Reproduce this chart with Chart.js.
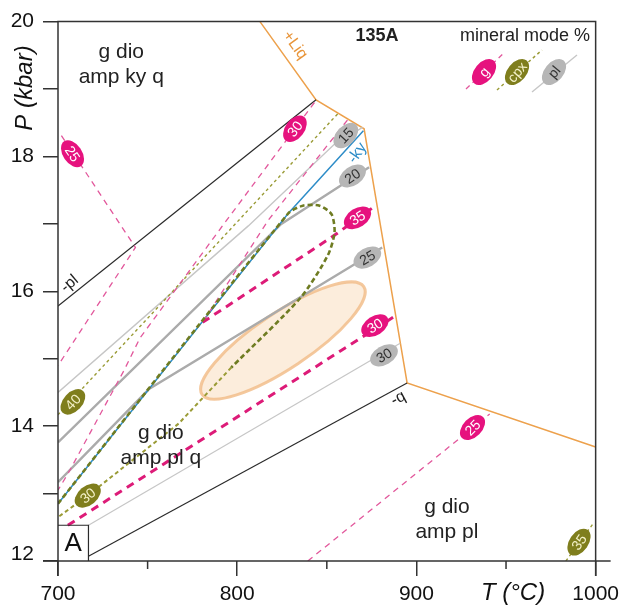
<!DOCTYPE html>
<html>
<head>
<meta charset="utf-8">
<script src="https://cdn.jsdelivr.net/npm/chart.js@4/dist/chart.umd.min.js"></script>
<style>html,body{margin:0;padding:0;background:#fff}canvas{display:block}</style>
</head>
<body>
<canvas id="c" width="625" height="612"></canvas>
<script>
// Axis ticks (T in °C, P in kbar)
const tempTickLabels = ['700', '', '800', '', '900', '', '1000'];
const pressTickLabels = ['12', '', '14', '', '16', '', '18', '', '20'];

// Field boundaries [T, P]
const liqBoundary = [[812.7, 20], [844.0, 18.84], [870.8, 18.41], [894.8, 14.64], [1000, 13.69]];
const plOut = [[700, 15.78], [844.0, 18.84]];
const qOut = [[717.0, 12.07], [894.8, 14.64]];
const kyOut = [[870.4, 18.38], [828.3, 17.15], [700, 12.85]];

// Plagioclase mode isopleths
const pl15 = [[870.0, 18.43], [854.2, 18.18], [806.2, 16.97], [700, 14.50]];
const pl20 = [[873.6, 17.84], [824.6, 17.00], [700, 13.76]];
const pl25 = [[880.9, 16.65], [750.8, 14.55], [700, 13.17]];
const pl30 = [[717.0, 12.53], [890.9, 15.23]];

// Garnet mode isopleths
const g25Upper = [[701.9, 18.31], [743.2, 16.65], [700, 14.90]];
const g30Upper = [[843.1, 18.80], [791.2, 16.95], [745.8, 15.31], [736.9, 14.83], [706.5, 13.34], [700, 13.05]];
const g35Ky = [[861.5, 18.54], [817.2, 17.05], [780.7, 15.54]];
const g35 = [[780.7, 15.54], [854.2, 16.83], [877.2, 17.27]];
const g30 = [[705.5, 12.53], [888.5, 15.64]];
const g25 = [[839.4, 12.0], [940.9, 14.18]];

// Clinopyroxene mode isopleths
const cpx40 = [[856.0, 18.63], [700, 14.17]];
const cpx30Loop = [[700, 12.85], [828.3, 17.15], [836.6, 17.27], [846.0, 17.27], [852.7, 17.14],
                   [854.3, 16.87], [850.5, 16.53], [835.5, 15.91], [796.7, 14.87]];
const cpx30Lower = [[796.7, 14.87], [767.4, 14.04], [716.6, 12.97], [700, 12.65]];
const cpx35 = [[983.4, 12.0], [998.2, 12.54]];

// Isopleth value tags [T, P, value]
const gTags = [[708.1, 18.04, '25'], [832.2, 18.41, '30'], [867.1, 17.09, '35'], [876.8, 15.49, '30'], [931.3, 13.98, '25']];
const cpxTags = [[708.3, 14.36, '40'], [716.6, 12.97, '30'], [990.7, 12.28, '35']];
const plTags = [[860.6, 18.31, '15'], [864.3, 17.71, '20'], [872.6, 16.50, '25'], [881.9, 15.05, '30']];

// Estimated peak P–T (ellipse: centre, end of long axis, end of short axis)
const peakCentre = [825.5, 15.27];
const peakLongEnd = [870.6, 16.07];
const peakShortEnd = [816.9, 15.61];

// Field assemblages [T, P of first line, lines]
const fieldLabels = [
  [735.3, 19.54, ['g dio', 'amp ky q']],
  [757.4, 13.89, ['g dio', 'amp pl q']],
  [917.0, 12.80, ['g dio', 'amp pl']]
];

const FONT = '"Liberation Sans", Arial, sans-serif';
const COL = {
  pinkThin: '#e2589c', pinkThick: '#dd1b78', pinkTag: '#e6127e',
  olive: '#9a9b36', oliveDark: '#6f7c22', oliveTag: '#7f7e1d',
  grayThin: '#c6c6c6', gray: '#ababab', grayTag: '#b6b6b6',
  orange: '#eda14c', blue: '#2e8dc8', black: '#2a2a2a'
};

const pts = arr => arr.map(([x, y]) => ({ x, y }));
function series(data, color, width, dash, extra) {
  return Object.assign({
    data: pts(data), borderColor: color, borderWidth: width, borderDash: dash || [],
    showLine: true, pointRadius: 0, fill: false, tension: 0, borderCapStyle: 'butt'
  }, extra || {});
}

const datasets = [
  series(cpx30Loop, COL.oliveDark, 2.6, [5, 3], { tension: 0.25 }),
  series(cpx30Lower, COL.olive, 2, [4, 3]),
  series(g35, COL.pinkThick, 3, [8, 6]),
  series(g30, COL.pinkThick, 3, [8, 6]),
  series(g35Ky, COL.pinkThin, 1.3, [6, 5]),
  series(g30Upper, COL.pinkThin, 1.3, [6, 5]),
  series(g25Upper, COL.pinkThin, 1.3, [6, 5]),
  series(g25, COL.pinkThin, 1.3, [6, 5]),
  series(cpx40, COL.olive, 1.4, [3, 3]),
  series(cpx35, COL.olive, 1.4, [3, 3]),
  series(kyOut, COL.blue, 1.5),
  series(pl20, COL.gray, 2.4),
  series(pl25, COL.gray, 2.4),
  series(pl15, COL.grayThin, 1.4),
  series(pl30, COL.grayThin, 1.2),
  series(plOut, COL.black, 1.2),
  series(qOut, COL.black, 1.2),
  series(liqBoundary, COL.orange, 1.5)
];

function tag(ctx, x, y, ang, txt, fill, col) {
  ctx.save();
  ctx.translate(x, y);
  ctx.rotate(ang * Math.PI / 180);
  ctx.beginPath();
  ctx.ellipse(0, 0, 15, 9.5, 0, 0, Math.PI * 2);
  ctx.fillStyle = fill;
  ctx.fill();
  ctx.fillStyle = col;
  ctx.font = '14px ' + FONT;
  ctx.textAlign = 'center';
  ctx.textBaseline = 'middle';
  ctx.fillText(txt, 0, 1);
  ctx.restore();
}

function rotText(ctx, x, y, ang, txt, font, col) {
  ctx.save();
  ctx.translate(x, y);
  ctx.rotate(ang * Math.PI / 180);
  ctx.font = font;
  ctx.fillStyle = col;
  ctx.textAlign = 'center';
  ctx.textBaseline = 'middle';
  ctx.fillText(txt, 0, 0);
  ctx.restore();
}

const decor = {
  id: 'decor',
  beforeDatasetsDraw(chart) {
    const { ctx, scales: { x, y } } = chart;
    const cx = x.getPixelForValue(peakCentre[0]), cy = y.getPixelForValue(peakCentre[1]);
    const lx = x.getPixelForValue(peakLongEnd[0]) - cx, ly = y.getPixelForValue(peakLongEnd[1]) - cy;
    const sx = x.getPixelForValue(peakShortEnd[0]) - cx, sy = y.getPixelForValue(peakShortEnd[1]) - cy;
    ctx.save();
    ctx.beginPath();
    ctx.ellipse(cx, cy, Math.hypot(lx, ly), Math.hypot(sx, sy), Math.atan2(ly, lx), 0, Math.PI * 2);
    ctx.fillStyle = 'rgba(250, 222, 192, 0.55)';
    ctx.fill();
    ctx.lineWidth = 3;
    ctx.strokeStyle = 'rgba(242, 190, 140, 0.85)';
    ctx.stroke();
    ctx.restore();
  },
  afterDatasetsDraw(chart) {
    const { ctx, chartArea: a, scales: { x, y } } = chart;
    const X = v => x.getPixelForValue(v), Y = v => y.getPixelForValue(v);

    // frame and axis lines
    ctx.save();
    ctx.strokeStyle = '#333';
    ctx.lineWidth = 1.5;
    ctx.beginPath();
    ctx.moveTo(a.left, a.bottom + 15); ctx.lineTo(a.left, a.top); ctx.lineTo(a.right, a.top); ctx.lineTo(a.right, a.bottom + 15);
    ctx.moveTo(a.left - 15, a.bottom); ctx.lineTo(a.right + 15, a.bottom);
    // minor temperature ticks
    [750, 850, 950].forEach(v => { ctx.moveTo(X(v), a.bottom); ctx.lineTo(X(v), a.bottom + 8); });
    ctx.stroke();

    // lowest pressure label sits just above the T axis
    ctx.fillStyle = '#111';
    ctx.font = '21px ' + FONT;
    ctx.textAlign = 'right';
    ctx.textBaseline = 'middle';
    ctx.fillText(pressTickLabels[0], a.left - 24, Y(12) - 7);

    // sample box "A"
    ctx.lineWidth = 1.2;
    ctx.strokeStyle = COL.black;
    ctx.beginPath();
    ctx.moveTo(a.left, Y(12.53)); ctx.lineTo(X(717), Y(12.53)); ctx.lineTo(X(717), a.bottom);
    ctx.stroke();
    ctx.font = '26px ' + FONT;
    ctx.textAlign = 'center';
    ctx.fillText('A', (a.left + X(717)) / 2, (Y(12.53) + a.bottom) / 2 + 1);
    ctx.restore();

    // boundary labels
    rotText(ctx, X(832.2), Y(19.65), 54, '+Liq', '16px ' + FONT, '#e8953a');
    rotText(ctx, X(706.5), Y(16.11), -40, '-pl', '16px ' + FONT, '#222');
    rotText(ctx, X(867.1), Y(18.05), -55, '-ky', '16px ' + FONT, COL.blue);
    rotText(ctx, X(889.8), Y(14.41), -28, '-q', '16px ' + FONT, '#222');

    // isopleth tags
    const gAng = [56, -53, -33, -33, -45];
    gTags.forEach(([t, p, s], i) => tag(ctx, X(t), Y(p), gAng[i], s, COL.pinkTag, '#fff'));
    const cpxAng = [-47, -40, -55];
    cpxTags.forEach(([t, p, s], i) => tag(ctx, X(t), Y(p), cpxAng[i], s, COL.oliveTag, '#f4f1c8'));
    const plAng = [-47, -35, -30, -30];
    plTags.forEach(([t, p, s], i) => tag(ctx, X(t), Y(p), plAng[i], s, COL.grayTag, '#333'));

    // field assemblages
    ctx.save();
    ctx.fillStyle = '#222';
    ctx.font = '21px ' + FONT;
    ctx.textAlign = 'center';
    ctx.textBaseline = 'middle';
    fieldLabels.forEach(([t, p, lines]) => {
      lines.forEach((s, k) => ctx.fillText(s, X(t), Y(p) + k * 25));
    });

    // header and key
    ctx.font = 'bold 18px ' + FONT;
    ctx.fillText('135A', 377, 36);
    ctx.font = '18px ' + FONT;
    ctx.textAlign = 'right';
    ctx.fillText('mineral mode %', 590, 36);

    const keyLines = [
      [[466, 89], [505, 52], COL.pinkThin, [5, 4], 1.3],
      [[497, 90], [542, 50], COL.olive, [3, 3], 1.4],
      [[532, 92], [577, 55], COL.grayThin, [], 1.4]
    ];
    keyLines.forEach(([p0, p1, c, d, w]) => {
      ctx.beginPath();
      ctx.setLineDash(d);
      ctx.strokeStyle = c;
      ctx.lineWidth = w;
      ctx.moveTo(p0[0], p0[1]); ctx.lineTo(p1[0], p1[1]);
      ctx.stroke();
    });
    ctx.setLineDash([]);
    ctx.restore();
    tag(ctx, 484, 72, -50, 'g', COL.pinkTag, '#fff');
    tag(ctx, 517, 72, -50, 'cpx', COL.oliveTag, '#f4f1c8');
    tag(ctx, 554, 72, -50, 'pl', COL.grayTag, '#333');

    // axis titles
    ctx.save();
    ctx.fillStyle = '#111';
    ctx.font = 'italic 24px ' + FONT;
    ctx.textAlign = 'center';
    ctx.textBaseline = 'middle';
    ctx.fillText('T (°C)', 513, 593);
    ctx.translate(25, 88);
    ctx.rotate(-Math.PI / 2);
    ctx.fillText('P (kbar)', 0, 0);
    ctx.restore();
  }
};

new Chart(document.getElementById('c'), {
  type: 'scatter',
  data: { datasets },
  options: {
    responsive: false,
    animation: false,
    devicePixelRatio: 1,
    layout: { padding: { top: 21, right: 25, left: 0, bottom: 0 } },
    plugins: { legend: { display: false }, tooltip: { enabled: false } },
    scales: {
      x: {
        type: 'linear', min: 700, max: 1000,
        afterFit(s) { s.height = 51; },
        border: { display: false },
        grid: {
          drawOnChartArea: false, drawTicks: true, tickLength: 15, lineWidth: 1.5,
          color: c => (c.tick && tempTickLabels[c.index] !== '') ? '#333' : 'rgba(0,0,0,0)'
        },
        ticks: {
          stepSize: 50, padding: 6, color: '#111', font: { family: FONT, size: 21 },
          maxRotation: 0, autoSkip: false,
          callback: (v, i) => tempTickLabels[i]
        }
      },
      y: {
        type: 'linear', min: 12, max: 20,
        afterFit(s) { s.width = 58; },
        border: { display: false },
        grid: { drawOnChartArea: false, drawTicks: true, tickLength: 15, lineWidth: 1.5, color: '#333' },
        ticks: {
          stepSize: 1, padding: 9, color: '#111', font: { family: FONT, size: 21 },
          autoSkip: false,
          // the lowest label is placed separately, clear of the T axis labels
          callback: (v, i) => (i === 0 ? '' : pressTickLabels[i])
        }
      }
    }
  },
  plugins: [decor]
});
</script>
</body>
</html>
